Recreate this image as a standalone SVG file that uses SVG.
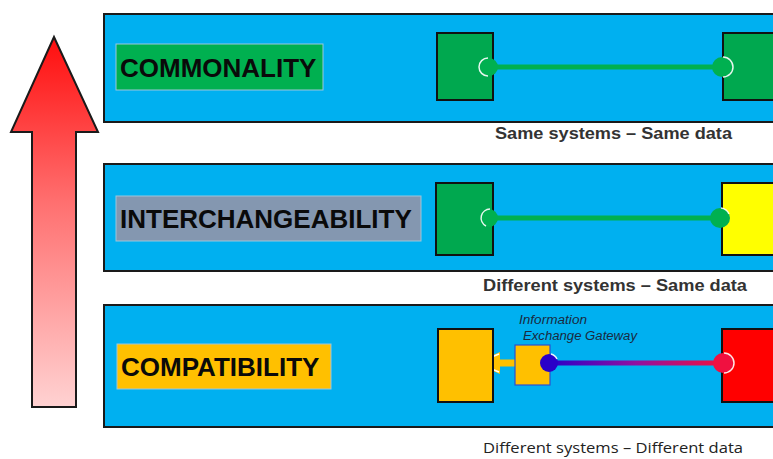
<svg xmlns="http://www.w3.org/2000/svg" width="773" height="459" viewBox="0 0 773 459">
<defs>
<linearGradient id="arrowGrad" x1="0" y1="0" x2="0" y2="1">
<stop offset="0" stop-color="#ff0d0d"/>
<stop offset="0.45" stop-color="#ff7070"/>
<stop offset="1" stop-color="#ffd2d2"/>
</linearGradient>
<linearGradient id="dataGrad" x1="550" y1="0" x2="722" y2="0" gradientUnits="userSpaceOnUse">
<stop offset="0" stop-color="#2a00c8"/>
<stop offset="0.5" stop-color="#9010a0"/>
<stop offset="1" stop-color="#f01040"/>
</linearGradient>
<style>
.band{fill:#00b0f0;stroke:#1a1a1a;stroke-width:2}
.lbl{stroke:#9cc6dc;stroke-width:1}
.lbltxt{font-family:"Liberation Sans",Arial,sans-serif;font-weight:bold;font-size:26px;fill:#0a0a0a}
.sys{stroke:#111;stroke-width:2}
.cap{font-family:"Liberation Sans",Arial,sans-serif;font-weight:bold;font-size:16px;fill:#333}
.cap2{font-family:"Open Sans","Liberation Sans",sans-serif;font-size:15px;fill:#222}
.link{stroke-width:5;fill:none}
.hl{fill:none;stroke:#ffffff;stroke-width:1.5;opacity:0.9}
.gw{font-family:"Liberation Sans",Arial,sans-serif;font-style:italic;font-size:12px;fill:#1a2a40}
</style>
</defs>
<rect width="773" height="459" fill="#ffffff"/>
<g id="progress-arrow">
<path d="M54,37 L98,132 L76,132 L76,407 L32,407 L32,132 L11,132 Z" fill="url(#arrowGrad)" stroke="#1a1a1a" stroke-width="2" stroke-linejoin="miter"/>
</g>
<g id="band-commonality">
<rect class="band" x="104" y="14" width="680" height="108"/>
<rect class="lbl" x="116" y="44" width="207" height="46" fill="#00b050"/>
<text class="lbltxt" x="120" y="77">COMMONALITY</text>
</g>
<g id="band-interchangeability">
<rect class="band" x="104" y="164" width="680" height="107"/>
<rect class="lbl" x="116" y="196" width="305" height="45" fill="#8497b0"/>
<text class="lbltxt" x="120" y="228">INTERCHANGEABILITY</text>
</g>
<g id="band-compatibility">
<rect class="band" x="104" y="305" width="680" height="122"/>
<rect class="lbl" x="117" y="344" width="214" height="45" fill="#ffc000" stroke="none"/>
<text class="lbltxt" x="121" y="376">COMPATIBILITY</text>
</g>
<g id="connectors">
<line class="link" x1="489" y1="67" x2="722" y2="67" stroke="#00b050"/>
<line class="link" x1="489" y1="218" x2="720" y2="218" stroke="#00b050"/>
<line class="link" x1="550" y1="363" x2="722" y2="363" stroke="url(#dataGrad)"/>
<line x1="515" y1="363" x2="498" y2="363" stroke="#ffc000" stroke-width="7"/>
<path d="M475,363 L500,352 L500,374 Z" fill="#ffc000"/>
<path d="M499,354 L477,363 L499,372" fill="none" stroke="#ffffff" stroke-width="1.5"/>
</g>
<g id="sys-c1">
<rect class="sys" x="437" y="33" width="56" height="67" fill="#00a84f"/>
</g>
<g id="sys-c2">
<rect class="sys" x="723" y="33" width="60" height="67" fill="#00a84f"/>
</g>
<g id="sys-i1">
<rect class="sys" x="436" y="183" width="57" height="72" fill="#00a84f"/>
</g>
<g id="sys-i2">
<rect class="sys" x="722" y="183" width="60" height="72" fill="#ffff00"/>
</g>
<g id="sys-p1">
<rect class="sys" x="438" y="329" width="55" height="73" fill="#ffc000"/>
</g>
<g id="gateway">
<rect x="515" y="345" width="35" height="40" fill="#ffc000" stroke="#2a50d0" stroke-width="1.2"/>
<text class="gw" x="519" y="324" textLength="68" lengthAdjust="spacingAndGlyphs">Information</text>
<text class="gw" x="523" y="340" textLength="114" lengthAdjust="spacingAndGlyphs">Exchange Gateway</text>
</g>
<g id="sys-p2">
<rect class="sys" x="722" y="329" width="60" height="73" fill="#ff0000"/>
</g>
<g id="ends">
<circle cx="489" cy="67" r="9" fill="#00b050"/>
<path class="hl" d="M488,58 A9,9 0 0 0 488,76"/>
<circle cx="722" cy="67" r="10" fill="#00b050"/>
<path class="hl" d="M723,57 A10,10 0 0 1 723,77"/>
<circle cx="489" cy="218" r="9" fill="#00b050"/>
<path class="hl" d="M490,209 A9,9 0 0 0 486,226"/>
<circle cx="720" cy="218" r="10" fill="#00b050"/>
<path class="hl" d="M721,208 A10,10 0 0 1 729,214"/>
<circle cx="549" cy="363" r="9" fill="#2a00c8"/>
<path class="hl" d="M551,354 A9,9 0 0 1 557,359"/>
<circle cx="723" cy="363" r="10" fill="#f01040"/>
<path class="hl" d="M724,353 A10,10 0 0 1 724,373"/>
</g>
<g id="captions">
<text class="cap" x="495" y="139" textLength="237" lengthAdjust="spacingAndGlyphs">Same systems – Same data</text>
<text class="cap" x="483" y="291" textLength="264" lengthAdjust="spacingAndGlyphs">Different systems – Same data</text>
<text class="cap2" x="483" y="453" textLength="260" lengthAdjust="spacingAndGlyphs">Different systems – Different data</text>
</g>
</svg>
